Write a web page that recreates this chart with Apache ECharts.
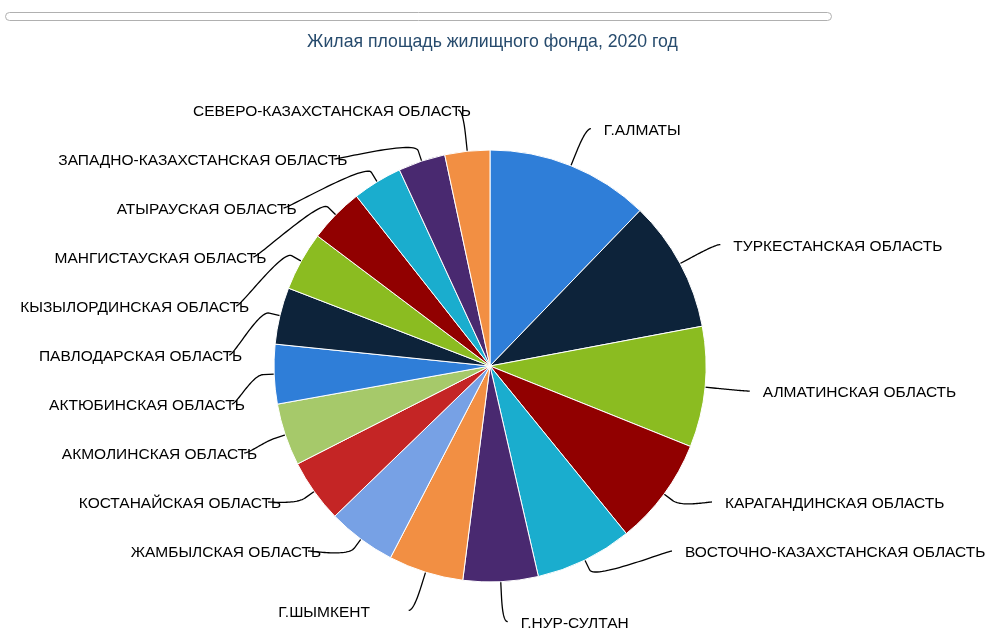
<!DOCTYPE html>
<html>
<head>
<meta charset="utf-8">
<script src="https://cdn.jsdelivr.net/npm/echarts@6/dist/echarts.min.js"></script>
<style>
  html, body { margin: 0; padding: 0; background: #fff; }
  #chart { width: 985px; height: 642px; }
</style>
</head>
<body>
<div id="chart"></div>
<script>
const titleText = 'Жилая площадь жилищного фонда, 2020 год';
const categories = [
  'Г.АЛМАТЫ',
  'ТУРКЕСТАНСКАЯ ОБЛАСТЬ',
  'АЛМАТИНСКАЯ ОБЛАСТЬ',
  'КАРАГАНДИНСКАЯ ОБЛАСТЬ',
  'ВОСТОЧНО-КАЗАХСТАНСКАЯ ОБЛАСТЬ',
  'Г.НУР-СУЛТАН',
  'Г.ШЫМКЕНТ            ',
  'ЖАМБЫЛСКАЯ ОБЛАСТЬ',
  'КОСТАНАЙСКАЯ ОБЛАСТЬ',
  'АКМОЛИНСКАЯ ОБЛАСТЬ',
  'АКТЮБИНСКАЯ ОБЛАСТЬ',
  'ПАВЛОДАРСКАЯ ОБЛАСТЬ',
  'КЫЗЫЛОРДИНСКАЯ ОБЛАСТЬ',
  'МАНГИСТАУСКАЯ ОБЛАСТЬ',
  'АТЫРАУСКАЯ ОБЛАСТЬ',
  'ЗАПАДНО-КАЗАХСТАНСКАЯ ОБЛАСТЬ',
  'СЕВЕРО-КАЗАХСТАНСКАЯ ОБЛАСТЬ'
];
const values = [44.0, 35.4, 32.5, 29.0, 26.2, 20.2, 20.2, 18.5, 17.1, 16.8, 16.0, 15.3, 15.9, 14.8, 13.4, 12.7, 12.1];
const palette = ['#2f7ed8', '#0d233a', '#8bbc21', '#910000', '#1aadce', '#492970', '#f28f43', '#77a1e5', '#c42525', '#a6c96a'];

// ---- layout constants (geometry / label style) ----
const CX = 490, CY = 366, RADIUS = 216;
const LABEL_DIST = 40, SLOT_H = 49, CONN_OFF = 11, CONN_PAD = 5, TEXT_DX = 13, TEXT_DY = 2;

// Highcharts-like label distribution, computed from the values
function computeLabelLayout() {
  const total = values.reduce((a, b) => a + b, 0);
  const Rl = RADIUS + LABEL_DIST;
  let acc = 0;
  const pts = values.map((v, i) => {
    const a0 = acc / total * 2 * Math.PI;
    acc += v;
    const a1 = acc / total * 2 * Math.PI;
    const mid = (a0 + a1) / 2;
    const dx = Math.sin(mid), dy = -Math.cos(mid);
    return {
      i, mid, left: mid > Math.PI,
      lp: [CX + dx * Rl, CY + dy * Rl, CX + dx * (RADIUS + CONN_OFF), CY + dy * (RADIUS + CONN_OFF), CX + dx * RADIUS, CY + dy * RADIUS]
    };
  });
  const getX = (y, left) => {
    const s = Math.max(-1, Math.min(1, (y - CY) / Rl));
    return CX + (left ? -1 : 1) * Math.cos(Math.asin(s)) * Rl;
  };
  const result = [];
  const halves = [
    pts.filter(p => !p.left).sort((a, b) => a.mid - b.mid),
    pts.filter(p => p.left).sort((a, b) => b.mid - a.mid)
  ];
  halves.forEach((points, h) => {
    const left = h === 1;
    const slots = [];
    for (let pos = CY - RADIUS - LABEL_DIST; pos <= CY + RADIUS + LABEL_DIST; pos += SLOT_H) slots.push(pos);
    const slotsLength = slots.length;
    const length = points.length;
    const used = [];
    for (let j = 0; j < length; j++) {
      const ny = points[j].lp[1];
      let closest = 9999, slotIndex = 0;
      for (let s = 0; s < slotsLength; s++) {
        const d = Math.abs(slots[s] - ny);
        if (d < closest) { closest = d; slotIndex = s; }
      }
      if (slotIndex < j && slots[j] !== null) {
        slotIndex = j;
      } else if (slotsLength < length - j + slotIndex && slots[j] !== null) {
        slotIndex = slotsLength - length + j;
        while (slots[slotIndex] === null) slotIndex++;
      } else {
        while (slots[slotIndex] === null) slotIndex++;
      }
      used.push({ i: slotIndex, y: slots[slotIndex] });
      slots[slotIndex] = null;
    }
    used.sort((a, b) => b.i - a.i);
    for (let j = 0; j < length; j++) {
      const p = points[j];
      const ny = p.lp[1];
      const slot = used.pop();
      const si = slot.i;
      let y = slot.y;
      if ((ny > y && slots[si + 1] !== null) || (ny < y && slots[si - 1] !== null)) y = ny;
      const x = getX(si === 0 || si === slotsLength - 1 ? ny : y, left);
      const p0 = [x + (left ? -CONN_PAD : CONN_PAD), y];
      const p1 = [x, y];
      const p2 = [2 * p.lp[2] - p.lp[4], 2 * p.lp[3] - p.lp[5]];
      const p3 = [p.lp[2], p.lp[3]];
      const line = [[p.lp[4], p.lp[5]]];
      const N = 30;
      for (let k = N; k >= 0; k--) {
        const t = k / N, u = 1 - t;
        line.push([
          u * u * u * p0[0] + 3 * u * u * t * p1[0] + 3 * u * t * t * p2[0] + t * t * t * p3[0],
          u * u * u * p0[1] + 3 * u * u * t * p1[1] + 3 * u * t * t * p2[1] + t * t * t * p3[1]
        ]);
      }
      result[p.i] = {
        x: left ? x - CONN_PAD + TEXT_DX : x + CONN_PAD + TEXT_DX,
        y: y + TEXT_DY,
        align: left ? 'right' : 'left',
        verticalAlign: 'middle',
        labelLinePoints: line
      };
    }
  });
  return result;
}
const labelPlacement = computeLabelLayout();

const chart = echarts.init(document.getElementById('chart'));
const data = categories.map((c, i) => ({ name: c, value: values[i] }));

chart.setOption({
  animation: false,
  color: palette,
  title: {
    text: titleText,
    left: 'center',
    top: 28,
    textStyle: { color: '#274b6d', fontSize: 17.7, fontWeight: 'normal', fontFamily: 'Liberation Sans, Arial, sans-serif' }
  },
  graphic: [{
    type: 'rect',
    shape: { x: 5.5, y: 12.5, width: 826, height: 8, r: 4 },
    style: { fill: '#fff', stroke: '#b0b0b0', lineWidth: 1 }
  }],
  series: [{
    type: 'pie',
    center: [CX, CY],
    radius: RADIUS,
    startAngle: 90,
    clockwise: true,
    avoidLabelOverlap: false,
    data: data,
    itemStyle: { borderColor: '#fff', borderWidth: 1 },
    label: {
      show: true,
      position: 'outside',
      formatter: '{b}',
      fontSize: 15.5,
      color: '#000',
      fontFamily: 'Liberation Sans, Arial, sans-serif',
      overflow: 'none'
    },
    labelLine: {
      show: true,
      length: 20,
      length2: 20,
      smooth: 0,
      lineStyle: { color: '#000', width: 1.3 }
    },
    labelLayout: function (params) {
      return labelPlacement[params.dataIndex];
    }
  }]
});
</script>
</body>
</html>
